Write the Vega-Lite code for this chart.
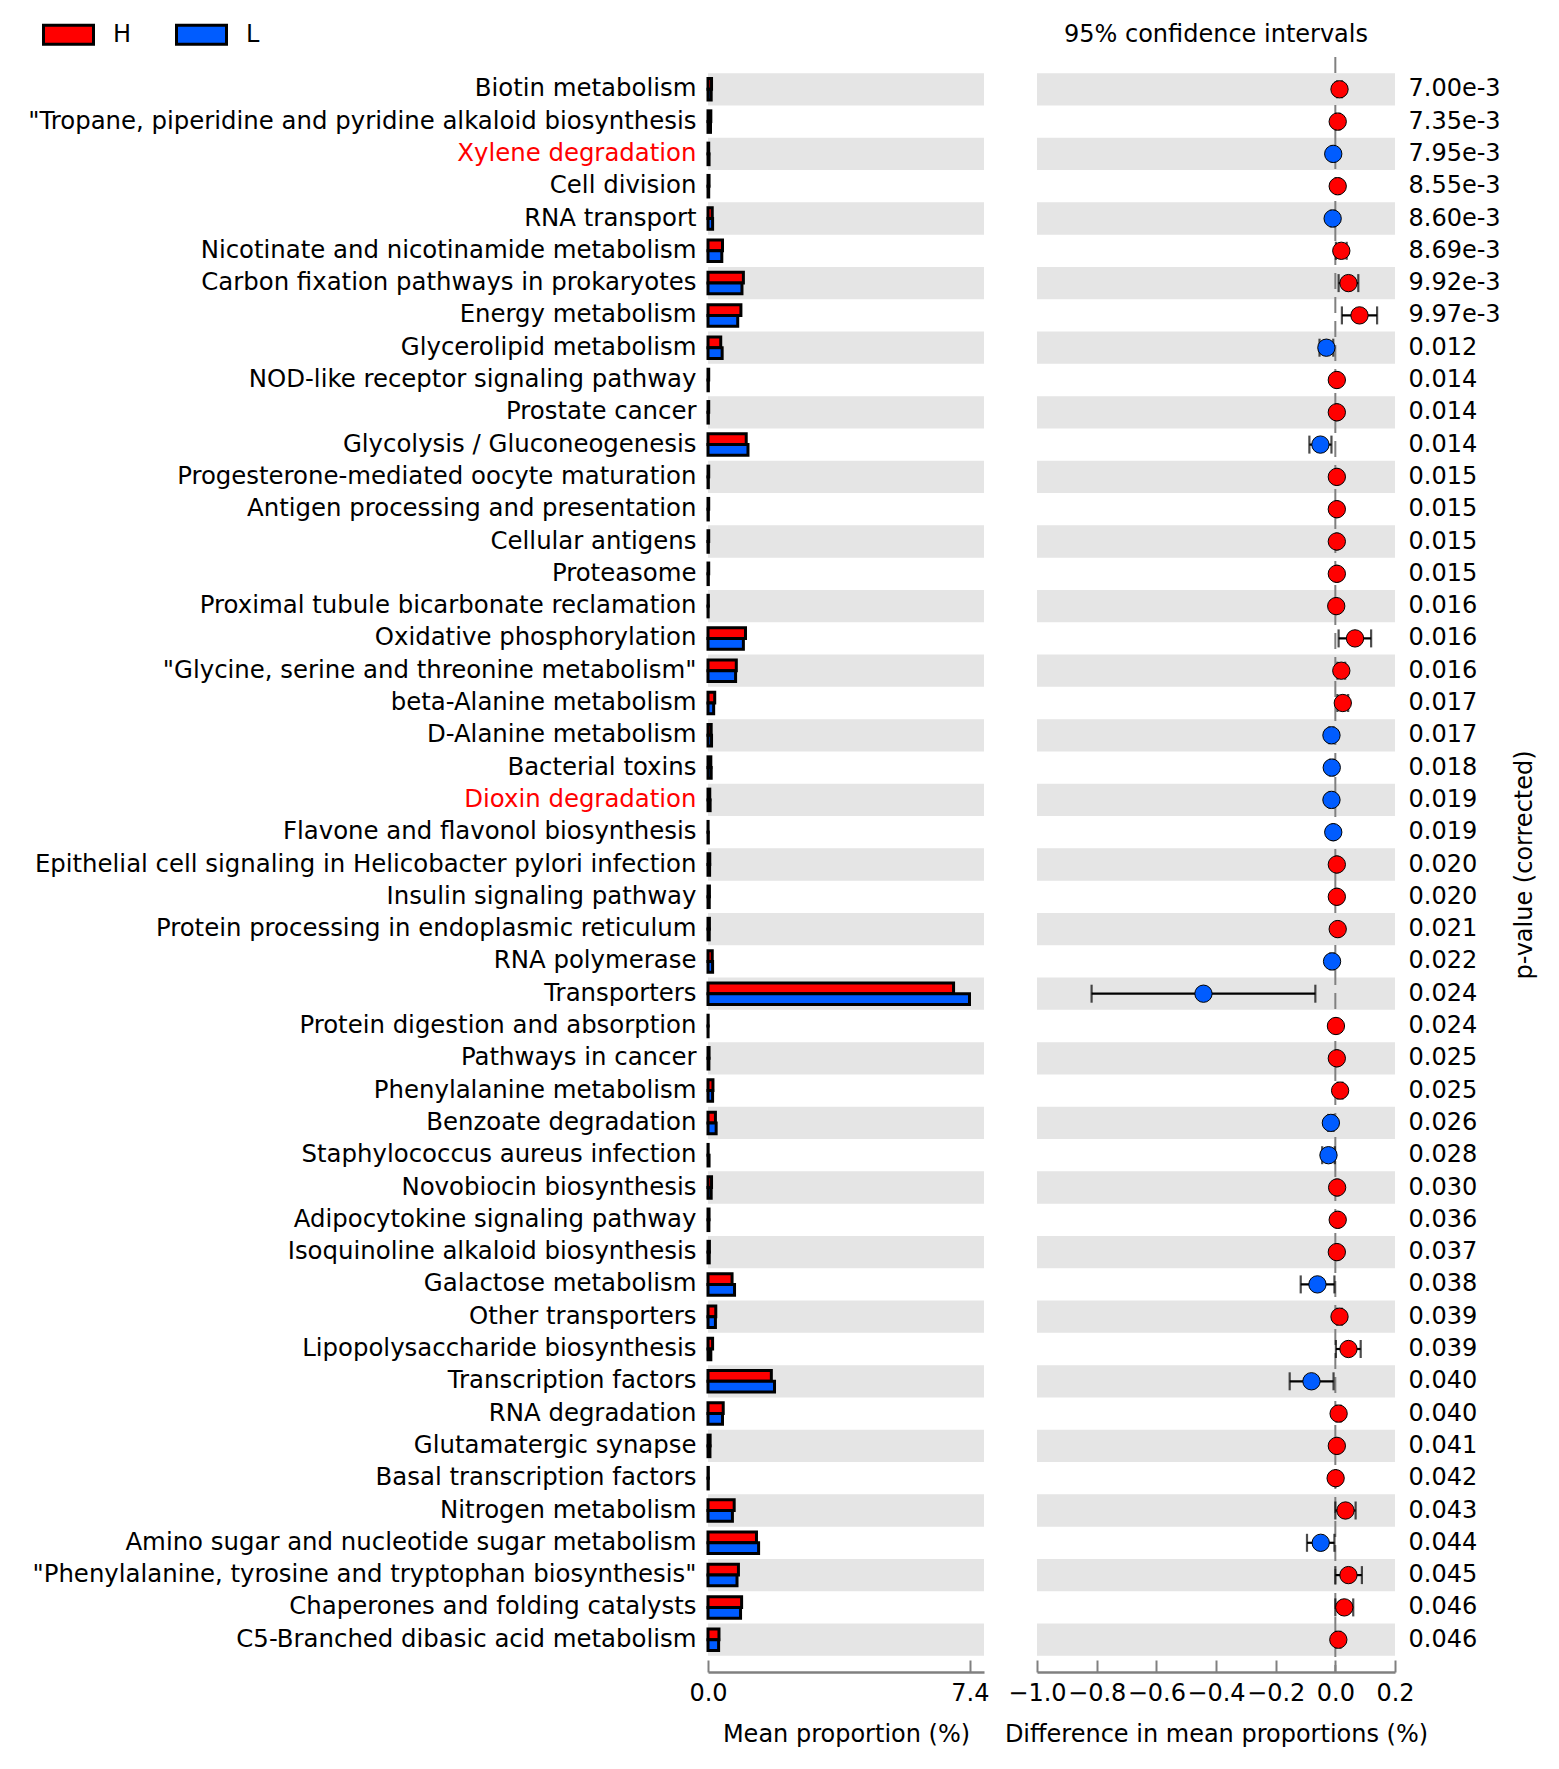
{
  "$schema": "https://vega.github.io/schema/vega-lite/v6.json",
  "padding": {"left": 27, "top": 8, "right": 5, "bottom": 5},
  "bounds": "flush",
  "spacing": 53,
  "background": "white",
  "config": {
    "font": "DejaVu Sans",
    "view": {"stroke": null},
    "axis": {"labelFont": "DejaVu Sans", "titleFont": "DejaVu Sans", "labelFontSize": 24, "titleFontSize": 24, "labelColor": "black", "titleColor": "black", "titleFontWeight": "normal", "grid": false}
  },
  "datasets": {
    "rows": [
      {"pathway": "Biotin metabolism", "H": 0.10, "L": 0.09, "diff": 0.014, "lo": 0.006, "hi": 0.022, "higher": "H", "p": "7.00e-3"},
      {"pathway": "\"Tropane, piperidine and pyridine alkaloid biosynthesis", "H": 0.08, "L": 0.07, "diff": 0.008, "lo": 0.002, "hi": 0.014, "higher": "H", "p": "7.35e-3"},
      {"pathway": "Xylene degradation", "H": 0.02, "L": 0.03, "diff": -0.007, "lo": -0.012, "hi": -0.002, "higher": "L", "p": "7.95e-3"},
      {"pathway": "Cell division", "H": 0.03, "L": 0.02, "diff": 0.008, "lo": 0.003, "hi": 0.013, "higher": "H", "p": "8.55e-3"},
      {"pathway": "RNA transport", "H": 0.12, "L": 0.13, "diff": -0.009, "lo": -0.015, "hi": -0.003, "higher": "L", "p": "8.60e-3"},
      {"pathway": "Nicotinate and nicotinamide metabolism", "H": 0.41, "L": 0.39, "diff": 0.020, "lo": 0.002, "hi": 0.038, "higher": "H", "p": "8.69e-3"},
      {"pathway": "Carbon fixation pathways in prokaryotes", "H": 1.00, "L": 0.96, "diff": 0.044, "lo": 0.011, "hi": 0.077, "higher": "H", "p": "9.92e-3"},
      {"pathway": "Energy metabolism", "H": 0.93, "L": 0.84, "diff": 0.081, "lo": 0.022, "hi": 0.140, "higher": "H", "p": "9.97e-3"},
      {"pathway": "Glycerolipid metabolism", "H": 0.36, "L": 0.40, "diff": -0.030, "lo": -0.053, "hi": -0.007, "higher": "L", "p": "0.012"},
      {"pathway": "NOD-like receptor signaling pathway", "H": 0.02, "L": 0.01, "diff": 0.005, "lo": 0.002, "hi": 0.008, "higher": "H", "p": "0.014"},
      {"pathway": "Prostate cancer", "H": 0.02, "L": 0.01, "diff": 0.005, "lo": 0.002, "hi": 0.008, "higher": "H", "p": "0.014"},
      {"pathway": "Glycolysis / Gluconeogenesis", "H": 1.08, "L": 1.13, "diff": -0.050, "lo": -0.087, "hi": -0.013, "higher": "L", "p": "0.014"},
      {"pathway": "Progesterone-mediated oocyte maturation", "H": 0.02, "L": 0.01, "diff": 0.005, "lo": 0.002, "hi": 0.008, "higher": "H", "p": "0.015"},
      {"pathway": "Antigen processing and presentation", "H": 0.02, "L": 0.01, "diff": 0.005, "lo": 0.002, "hi": 0.008, "higher": "H", "p": "0.015"},
      {"pathway": "Cellular antigens", "H": 0.02, "L": 0.01, "diff": 0.005, "lo": 0.002, "hi": 0.008, "higher": "H", "p": "0.015"},
      {"pathway": "Proteasome", "H": 0.02, "L": 0.01, "diff": 0.005, "lo": 0.002, "hi": 0.008, "higher": "H", "p": "0.015"},
      {"pathway": "Proximal tubule bicarbonate reclamation", "H": 0.01, "L": 0.005, "diff": 0.003, "lo": 0.001, "hi": 0.005, "higher": "H", "p": "0.016"},
      {"pathway": "Oxidative phosphorylation", "H": 1.06, "L": 1.00, "diff": 0.066, "lo": 0.011, "hi": 0.120, "higher": "H", "p": "0.016"},
      {"pathway": "\"Glycine, serine and threonine metabolism\"", "H": 0.80, "L": 0.78, "diff": 0.020, "lo": 0.007, "hi": 0.033, "higher": "H", "p": "0.016"},
      {"pathway": "beta-Alanine metabolism", "H": 0.19, "L": 0.16, "diff": 0.025, "lo": 0.007, "hi": 0.043, "higher": "H", "p": "0.017"},
      {"pathway": "D-Alanine metabolism", "H": 0.09, "L": 0.10, "diff": -0.013, "lo": -0.020, "hi": -0.006, "higher": "L", "p": "0.017"},
      {"pathway": "Bacterial toxins", "H": 0.08, "L": 0.09, "diff": -0.012, "lo": -0.018, "hi": -0.006, "higher": "L", "p": "0.018"},
      {"pathway": "Dioxin degradation", "H": 0.05, "L": 0.06, "diff": -0.013, "lo": -0.019, "hi": -0.007, "higher": "L", "p": "0.019"},
      {"pathway": "Flavone and flavonol biosynthesis", "H": 0.003, "L": 0.01, "diff": -0.007, "lo": -0.010, "hi": -0.004, "higher": "L", "p": "0.019"},
      {"pathway": "Epithelial cell signaling in Helicobacter pylori infection", "H": 0.05, "L": 0.045, "diff": 0.005, "lo": 0.002, "hi": 0.008, "higher": "H", "p": "0.020"},
      {"pathway": "Insulin signaling pathway", "H": 0.04, "L": 0.035, "diff": 0.005, "lo": 0.002, "hi": 0.008, "higher": "H", "p": "0.020"},
      {"pathway": "Protein processing in endoplasmic reticulum", "H": 0.04, "L": 0.035, "diff": 0.008, "lo": 0.004, "hi": 0.012, "higher": "H", "p": "0.021"},
      {"pathway": "RNA polymerase", "H": 0.12, "L": 0.13, "diff": -0.011, "lo": -0.017, "hi": -0.005, "higher": "L", "p": "0.022"},
      {"pathway": "Transporters", "H": 6.94, "L": 7.39, "diff": -0.442, "lo": -0.817, "hi": -0.067, "higher": "L", "p": "0.024"},
      {"pathway": "Protein digestion and absorption", "H": 0.005, "L": 0.003, "diff": 0.002, "lo": 0.001, "hi": 0.003, "higher": "H", "p": "0.024"},
      {"pathway": "Pathways in cancer", "H": 0.03, "L": 0.025, "diff": 0.005, "lo": 0.002, "hi": 0.008, "higher": "H", "p": "0.025"},
      {"pathway": "Phenylalanine metabolism", "H": 0.14, "L": 0.13, "diff": 0.016, "lo": 0.008, "hi": 0.024, "higher": "H", "p": "0.025"},
      {"pathway": "Benzoate degradation", "H": 0.21, "L": 0.23, "diff": -0.015, "lo": -0.024, "hi": -0.006, "higher": "L", "p": "0.026"},
      {"pathway": "Staphylococcus aureus infection", "H": 0.005, "L": 0.03, "diff": -0.023, "lo": -0.044, "hi": -0.002, "higher": "L", "p": "0.028"},
      {"pathway": "Novobiocin biosynthesis", "H": 0.10, "L": 0.09, "diff": 0.006, "lo": 0.002, "hi": 0.010, "higher": "H", "p": "0.030"},
      {"pathway": "Adipocytokine signaling pathway", "H": 0.03, "L": 0.025, "diff": 0.008, "lo": 0.004, "hi": 0.012, "higher": "H", "p": "0.036"},
      {"pathway": "Isoquinoline alkaloid biosynthesis", "H": 0.04, "L": 0.035, "diff": 0.005, "lo": 0.002, "hi": 0.008, "higher": "H", "p": "0.037"},
      {"pathway": "Galactose metabolism", "H": 0.68, "L": 0.75, "diff": -0.060, "lo": -0.116, "hi": -0.003, "higher": "L", "p": "0.038"},
      {"pathway": "Other transporters", "H": 0.22, "L": 0.21, "diff": 0.014, "lo": 0.006, "hi": 0.022, "higher": "H", "p": "0.039"},
      {"pathway": "Lipopolysaccharide biosynthesis", "H": 0.13, "L": 0.08, "diff": 0.044, "lo": 0.002, "hi": 0.085, "higher": "H", "p": "0.039"},
      {"pathway": "Transcription factors", "H": 1.79, "L": 1.88, "diff": -0.080, "lo": -0.153, "hi": -0.006, "higher": "L", "p": "0.040"},
      {"pathway": "RNA degradation", "H": 0.43, "L": 0.41, "diff": 0.011, "lo": 0.004, "hi": 0.018, "higher": "H", "p": "0.040"},
      {"pathway": "Glutamatergic synapse", "H": 0.06, "L": 0.055, "diff": 0.005, "lo": 0.002, "hi": 0.008, "higher": "H", "p": "0.041"},
      {"pathway": "Basal transcription factors", "H": 0.01, "L": 0.008, "diff": 0.001, "lo": 0.0, "hi": 0.002, "higher": "H", "p": "0.042"},
      {"pathway": "Nitrogen metabolism", "H": 0.74, "L": 0.69, "diff": 0.034, "lo": 0.0, "hi": 0.068, "higher": "H", "p": "0.043"},
      {"pathway": "Amino sugar and nucleotide sugar metabolism", "H": 1.37, "L": 1.43, "diff": -0.049, "lo": -0.095, "hi": -0.003, "higher": "L", "p": "0.044"},
      {"pathway": "\"Phenylalanine, tyrosine and tryptophan biosynthesis\"", "H": 0.86, "L": 0.82, "diff": 0.044, "lo": 0.0, "hi": 0.089, "higher": "H", "p": "0.045"},
      {"pathway": "Chaperones and folding catalysts", "H": 0.95, "L": 0.92, "diff": 0.030, "lo": 0.0, "hi": 0.060, "higher": "H", "p": "0.046"},
      {"pathway": "C5-Branched dibasic acid metabolism", "H": 0.31, "L": 0.30, "diff": 0.010, "lo": 0.003, "hi": 0.017, "higher": "H", "p": "0.046"}
    ]
  },
  "resolve": {"scale": {"fill": "independent"}, "legend": {"fill": "independent"}},
  "hconcat": [
    {
      "width": 276,
      "height": 1615,
      "layer": [
        {
          "data": {"name": "rows"},
          "transform": [{"window": [{"op": "row_number", "as": "rn"}]}],
          "mark": {"type": "bar"},
          "encoding": {
            "y": {"field": "pathway", "type": "nominal", "sort": null,
                  "scale": {"paddingInner": 0, "paddingOuter": 0.5},
                  "axis": {"title": null, "domain": false, "ticks": false, "labelPadding": 12, "labelLimit": 1000, "labelFontSize": 24.4,
                           "labelColor": {"condition": {"test": "datum.value === 'Xylene degradation' || datum.value === 'Dioxin degradation'", "value": "#ff0000"}, "value": "black"}}},
            "x": {"datum": 0, "type": "quantitative",
                  "scale": {"domain": [0, 7.8], "nice": false, "zero": false},
                  "axis": {"values": [0, 7.4], "format": ".1f", "title": "Mean proportion (%)", "domainColor": "#808080", "domainWidth": 2.5, "tickColor": "#808080", "tickWidth": 2, "tickSize": -12, "labelPadding": 21, "labelFlush": false, "labelOverlap": false, "titlePadding": 17}},
            "x2": {"datum": 7.8},
            "color": {"condition": {"test": "datum.rn % 2 == 1", "value": "#e5e5e5"}, "value": "transparent"}
          }
        },
        {
          "data": {"name": "rows"},
          "transform": [{"fold": ["H", "L"], "as": ["group", "mean"]}],
          "mark": {"type": "bar", "stroke": "black", "strokeWidth": 3},
          "encoding": {
            "y": {"field": "pathway", "type": "nominal", "sort": null},
            "yOffset": {"field": "group", "type": "nominal", "sort": ["H", "L"], "scale": {"paddingInner": 0, "paddingOuter": 0.5}},
            "x": {"field": "mean", "type": "quantitative"},
            "fill": {"field": "group", "type": "nominal",
                     "scale": {"domain": ["H", "L"], "range": ["#ff0000", "#005cff"]},
                     "legend": {"orient": "none", "legendX": -666, "legendY": -48.7, "direction": "horizontal", "title": null,
                                "symbolType": "M-1,-0.38L1,-0.38L1,0.38L-1,0.38Z", "symbolSize": 2500,
                                "symbolStrokeColor": "black", "symbolStrokeWidth": 3,
                                "labelFontSize": 24, "labelFont": "DejaVu Sans", "labelColor": "black", "labelOffset": 18, "columnPadding": 38, "padding": 0}}
          }
        }
      ]
    },
    {
      "width": 358,
      "height": 1615,
      "title": {"text": "95% confidence intervals", "fontSize": 24, "fontWeight": "normal", "font": "DejaVu Sans", "color": "black", "offset": -9.5, "baseline": "alphabetic", "anchor": "middle"},
      "layer": [
        {
          "data": {"name": "rows"},
          "transform": [{"calculate": "datum.pathway + '|' + datum.p", "as": "key"}, {"window": [{"op": "row_number", "as": "rn"}]}],
          "mark": {"type": "bar"},
          "encoding": {
            "y": {"field": "key", "type": "nominal", "sort": null,
                  "scale": {"paddingInner": 0, "paddingOuter": 0.5},
                  "axis": {"orient": "right", "domain": false, "ticks": false, "labelPadding": 13, "labelLimit": 500, "labelFontSize": 24,
                           "labelExpr": "split(datum.label, '|')[1]",
                           "title": "p-value (corrected)", "titleAngle": 270, "titleBaseline": "top", "titlePadding": 12}},
            "x": {"datum": -1, "type": "quantitative",
                  "scale": {"domain": [-1, 0.2], "nice": false, "zero": false},
                  "axis": {"values": [-1, -0.8, -0.6, -0.4, -0.2, 0, 0.2], "format": ".1f", "title": "Difference in mean proportions (%)", "domainColor": "#808080", "domainWidth": 2.5, "tickColor": "#808080", "tickWidth": 2, "tickSize": -12, "labelPadding": 21, "labelFlush": false, "labelOverlap": false, "labelBound": false, "titlePadding": 17}},
            "x2": {"datum": 0.2},
            "color": {"condition": {"test": "datum.rn % 2 == 1", "value": "#e5e5e5"}, "value": "transparent"}
          }
        },
        {
          "data": {"values": [{}]},
          "mark": {"type": "rule", "color": "#808080", "strokeWidth": 2, "strokeDash": [16, 8]},
          "encoding": {"x": {"datum": 0, "type": "quantitative"}}
        },
        {
          "data": {"name": "rows"},
          "transform": [{"calculate": "datum.pathway + '|' + datum.p", "as": "key"}],
          "mark": {"type": "rule", "color": "black", "strokeWidth": 2.2},
          "encoding": {
            "y": {"field": "key", "type": "nominal", "sort": null},
            "x": {"field": "lo", "type": "quantitative"},
            "x2": {"field": "hi"}
          }
        },
        {
          "data": {"name": "rows"},
          "transform": [{"calculate": "datum.pathway + '|' + datum.p", "as": "key"}],
          "mark": {"type": "tick", "color": "black", "thickness": 2.2, "size": 18, "orient": "vertical"},
          "encoding": {
            "y": {"field": "key", "type": "nominal", "sort": null},
            "x": {"field": "lo", "type": "quantitative"}
          }
        },
        {
          "data": {"name": "rows"},
          "transform": [{"calculate": "datum.pathway + '|' + datum.p", "as": "key"}],
          "mark": {"type": "tick", "color": "black", "thickness": 2.2, "size": 18, "orient": "vertical"},
          "encoding": {
            "y": {"field": "key", "type": "nominal", "sort": null},
            "x": {"field": "hi", "type": "quantitative"}
          }
        },
        {
          "data": {"name": "rows"},
          "transform": [{"calculate": "datum.pathway + '|' + datum.p", "as": "key"}],
          "mark": {"type": "point", "shape": "circle", "filled": true, "size": 300, "stroke": "black", "strokeWidth": 1, "opacity": 1},
          "encoding": {
            "y": {"field": "key", "type": "nominal", "sort": null},
            "x": {"field": "diff", "type": "quantitative"},
            "fill": {"field": "higher", "type": "nominal", "scale": {"domain": ["H", "L"], "range": ["#ff0000", "#005cff"]}, "legend": null}
          }
        }
      ]
    }
  ]
}
